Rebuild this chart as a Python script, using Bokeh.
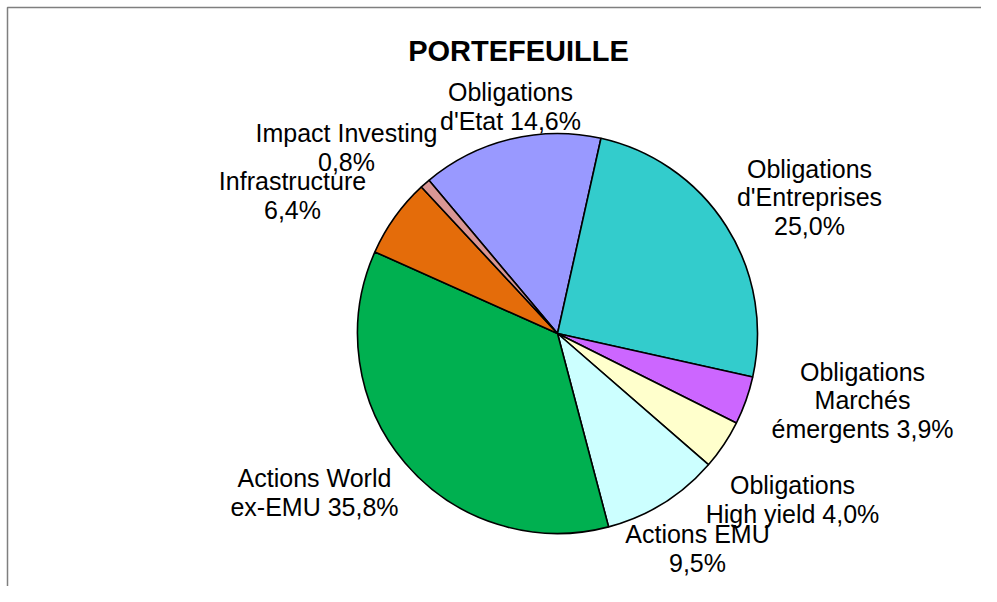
import math
from bokeh.plotting import figure
from bokeh.models import Range1d, ColumnDataSource
from bokeh.core.properties import value
from bokeh.embed import file_html
from bokeh.resources import INLINE

# ---- data ----
categories = ["Obligations d'Etat", "Obligations d'Entreprises", "Obligations Marchés émergents",
              "Obligations High yield", "Actions EMU", "Actions World ex-EMU",
              "Infrastructure", "Impact Investing"]
shares = [14.6, 25.0, 3.9, 4.0, 9.5, 35.8, 6.4, 0.8]
label_texts = ["Obligations\nd'Etat 14,6%", "Obligations\nd'Entreprises\n25,0%",
               "Obligations\nMarchés\némergents 3,9%", "Obligations\nHigh yield 4,0%",
               "Actions EMU\n9,5%", "Actions World\nex-EMU 35,8%",
               "Infrastructure\n6,4%", "Impact Investing\n0,8%"]
colors = ["#9999FF", "#33CCCC", "#CC66FF", "#FFFFCC", "#CCFFFF", "#00B050", "#E46C0A", "#D99694"]
title_text = "PORTEFEUILLE"

# ---- layout ----
W, H = 981, 586
CX, CY, R = 557, 586 - 333, 200
FIRST_ANGLE_DEG = -40.0  # clockwise from 12 o'clock
# label centres in pixels (x, y from top)
label_pos = [(510, 106), (809, 197), (862, 400), (792, 499), (697, 548),
             (314, 492), (292, 195), (346, 147)]

total = sum(shares)
starts, ends = [], []
cum = 0.0
for s in shares:
    a0 = math.radians(FIRST_ANGLE_DEG + cum / total * 360.0)
    cum += s
    a1 = math.radians(FIRST_ANGLE_DEG + cum / total * 360.0)
    starts.append(math.pi / 2 - a1)
    ends.append(math.pi / 2 - a0)

src = ColumnDataSource(dict(cat=categories, share=shares, start=starts, end=ends, color=colors))

p = figure(width=W, height=H, output_backend="svg", toolbar_location=None,
           x_range=Range1d(0, W), y_range=Range1d(0, H), min_border=0)
p.axis.visible = False
p.grid.visible = False
p.outline_line_color = None
p.background_fill_color = "white"
p.border_fill_color = "white"

# chart-area frame (top and left edges visible)
p.line(x=[7, 7, W + 10], y=[-10, H - 7, H - 7], line_color="#7f7f7f", line_width=1.5)

p.wedge(x=CX, y=CY, radius=R, radius_units="screen", start_angle="start", end_angle="end",
        fill_color="color", line_color="black", line_width=1.6, source=src)

lx = [x for x, y in label_pos]
ly = [H - y for x, y in label_pos]
p.text(x=lx, y=ly, text=label_texts, text_font=value("Liberation Sans"),
       text_font_size="25px", text_align="center", text_baseline="middle",
       text_line_height=1.03, text_color="black")

p.text(x=[518], y=[H - 50], text=[title_text], text_font=value("Liberation Sans"),
       text_font_size="29px", text_font_style="bold", text_align="center",
       text_baseline="middle", text_color="black")

open("out.html", "w").write(file_html(p, INLINE))
